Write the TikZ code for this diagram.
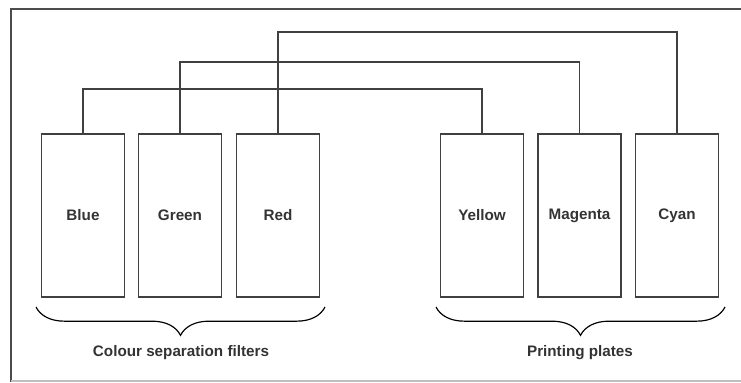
\documentclass[tikz,border=0pt]{standalone}
\usepackage{fontspec}
\setmainfont{Liberation Sans}
\usetikzlibrary{decorations.pathreplacing}

\tikzset{
	plate/.style={draw=black!75, line width=1.3pt, minimum width=2.5cm, minimum height=4.89cm, inner sep=0pt, font=\fontsize{13}{15}\selectfont\bfseries, text=black!80},
	wire/.style={draw=black!75, line width=1.3pt},
	bracket/.style={draw=black, line width=1pt, decorate, decoration={brace, mirror, amplitude=0.85cm}},
	caption/.style={font=\fontsize{13}{15}\selectfont\bfseries, text=black!80}
}

\begin{document}
\begin{tikzpicture}[x=0.03cm, y=-0.03cm]
			\useasboundingbox (0,0) rectangle (741,382);
			\draw [line width=1.6pt, black!70] (11,382) -- (11,9) -- (741,9);
			\draw [line width=1pt, black!25] (11,381) -- (741,381);
			
			\node [plate] (blue) at (83,215.5) {Blue};
			\node [plate] (green) at (180,215.5) {Green};
			\node [plate] (red) at (278,215.5) {Red};
			\node [plate] (yellow) at (482,215.5) {Yellow};
			\node [plate] (magenta) at (579.5,215.5) {Magenta};
			\node [plate] (cyan) at (677,215.5) {Cyan};
			
			\draw [wire] (blue.north) -- (blue.north |- 0,89) -| (yellow.north);
			\draw [wire] (green.north) -- (green.north |- 0,62) -| (magenta.north);
			\draw [wire] (red.north) -- (red.north |- 0,32) -| (cyan.north);
			
			\draw [bracket] (36,307) -- (325,307);
			\draw [bracket] (436,307) -- (725,307);
			
			\node [caption] (filters) at (181,353) {Colour separation filters};
			\node [caption] (plates) at (580,353) {Printing plates};
		\end{tikzpicture}
\end{document}
